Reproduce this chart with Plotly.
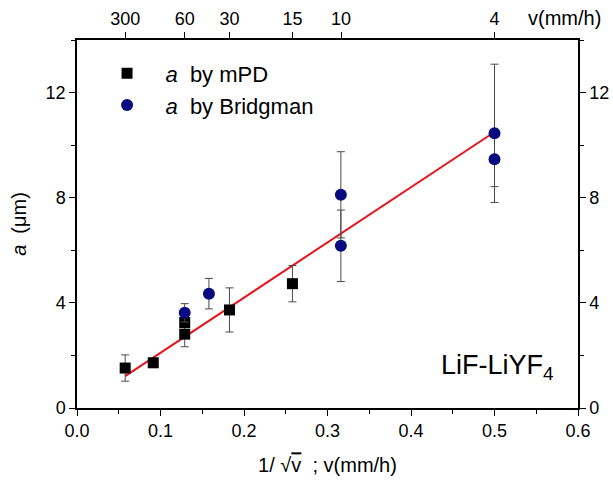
import plotly.graph_objects as go

# ---- data ----
mpd_x = [0.0577, 0.0913, 0.129, 0.129, 0.1826, 0.258]
mpd_y = [1.52, 1.72, 2.81, 3.25, 3.73, 4.73]
mpd_err = [0.50, 0.0, 0.48, 0.0, 0.84, 0.69]

br_x = [0.129, 0.158, 0.316, 0.316, 0.5, 0.5]
br_y = [3.62, 4.35, 8.11, 6.17, 10.45, 9.46]
br_err = [0.35, 0.58, 1.64, 1.36, 2.63, 1.04]

fit_x = [0.0577, 0.5]
fit_y = [1.21, 10.50]

bottom_ticks = [0.0, 0.1, 0.2, 0.3, 0.4, 0.5, 0.6]
bottom_labels = ["0.0", "0.1", "0.2", "0.3", "0.4", "0.5", "0.6"]
left_ticks = [0, 4, 8, 12]
left_labels = ["0", "4", "8", "12"]
top_v = [300, 60, 30, 15, 10, 4]
top_labels = ["300", "60", "30", "15", "10", "4"]

FONT = "Arial, Liberation Sans, sans-serif"
NAVY = "#0a0a80"
ERRC = "#4a4a4a"

fig = go.Figure()

fig.add_trace(go.Scatter(x=fit_x, y=fit_y, mode="lines",
                         line=dict(color="#e8141c", width=2), showlegend=False))

fig.add_trace(go.Scatter(
    x=mpd_x, y=mpd_y, mode="markers",
    name="\u00a0\u00a0\u00a0<i>a</i>\u00a0 by mPD",
    marker=dict(symbol="square", size=11, color="black"),
    error_y=dict(type="data", array=mpd_err, visible=True, color=ERRC, thickness=1, width=4),
))
fig.add_trace(go.Scatter(
    x=br_x, y=br_y, mode="markers",
    name="\u00a0\u00a0\u00a0<i>a</i>\u00a0 by Bridgman",
    marker=dict(symbol="circle", size=12, color=NAVY),
    error_y=dict(type="data", array=br_err, visible=True, color=ERRC, thickness=1, width=4),
))

# invisible trace to anchor secondary axes
fig.add_trace(go.Scatter(x=[0.3], y=[7], xaxis="x2", yaxis="y2", mode="markers",
                         marker=dict(opacity=0), showlegend=False, hoverinfo="skip"))

axis_common = dict(showgrid=False, zeroline=False, showline=True, linecolor="black",
                   linewidth=1.5, ticks="outside", ticklen=6, tickwidth=1.3, tickcolor="black",
                   automargin=False,
                   tickfont=dict(family=FONT, size=18, color="black"))

top_x = [1 / v ** 0.5 for v in top_v]

fig.update_layout(
    width=613, height=480,
    margin=dict(l=77, r=35, t=40, b=72),
    paper_bgcolor="white", plot_bgcolor="white",
    font=dict(family=FONT, color="black"),
    xaxis=dict(range=[0, 0.6], tickvals=bottom_ticks, ticktext=bottom_labels,
               minor=dict(tickvals=[0.05, 0.15, 0.25, 0.35, 0.45, 0.55], ticks="outside",
                          ticklen=4, tickcolor="black", tickwidth=1.3),
               title=dict(text="1/ \u221a<span style='text-decoration:overline'>v</span>\u00a0 ; v(mm/h)",
                          font=dict(family=FONT, size=20), standoff=18),
               **axis_common),
    xaxis2=dict(range=[0, 0.6], overlaying="x", side="top", anchor="y",
                tickvals=top_x, ticktext=top_labels, **axis_common),
    yaxis=dict(range=[0, 14], tickvals=left_ticks, ticktext=left_labels,
               minor=dict(tickvals=[2, 6, 10, 14], ticks="outside", ticklen=4,
                          tickcolor="black", tickwidth=1.3),
               title=dict(text="<i>a</i>\u00a0 (\u03bcm)", font=dict(family=FONT, size=20), standoff=14),
               **axis_common),
    yaxis2=dict(range=[0, 14], overlaying="y", side="right", anchor="x",
                tickvals=left_ticks, ticktext=left_labels,
                minor=dict(tickvals=[2, 6, 10, 14], ticks="outside", ticklen=4,
                           tickcolor="black", tickwidth=1.3),
                **axis_common),
    legend=dict(x=0.06, y=0.966, xanchor="left", yanchor="top", bgcolor="rgba(0,0,0,0)",
                font=dict(family=FONT, size=22, color="black"), tracegroupgap=0),
    annotations=[
        dict(text="v(mm/h)", xref="paper", yref="paper", x=0.974, y=1.061,
             showarrow=False, font=dict(family=FONT, size=20), xanchor="center", yanchor="middle"),
        dict(text="LiF-LiYF<sub>4</sub>", xref="x", yref="y", x=0.504, y=1.56,
             showarrow=False, font=dict(family=FONT, size=27), xanchor="center", yanchor="middle"),
    ],
)

fig.write_html("out.html", config={"displayModeBar": False},
               post_script="document.body.style.margin='0';document.body.style.overflow='hidden';")
